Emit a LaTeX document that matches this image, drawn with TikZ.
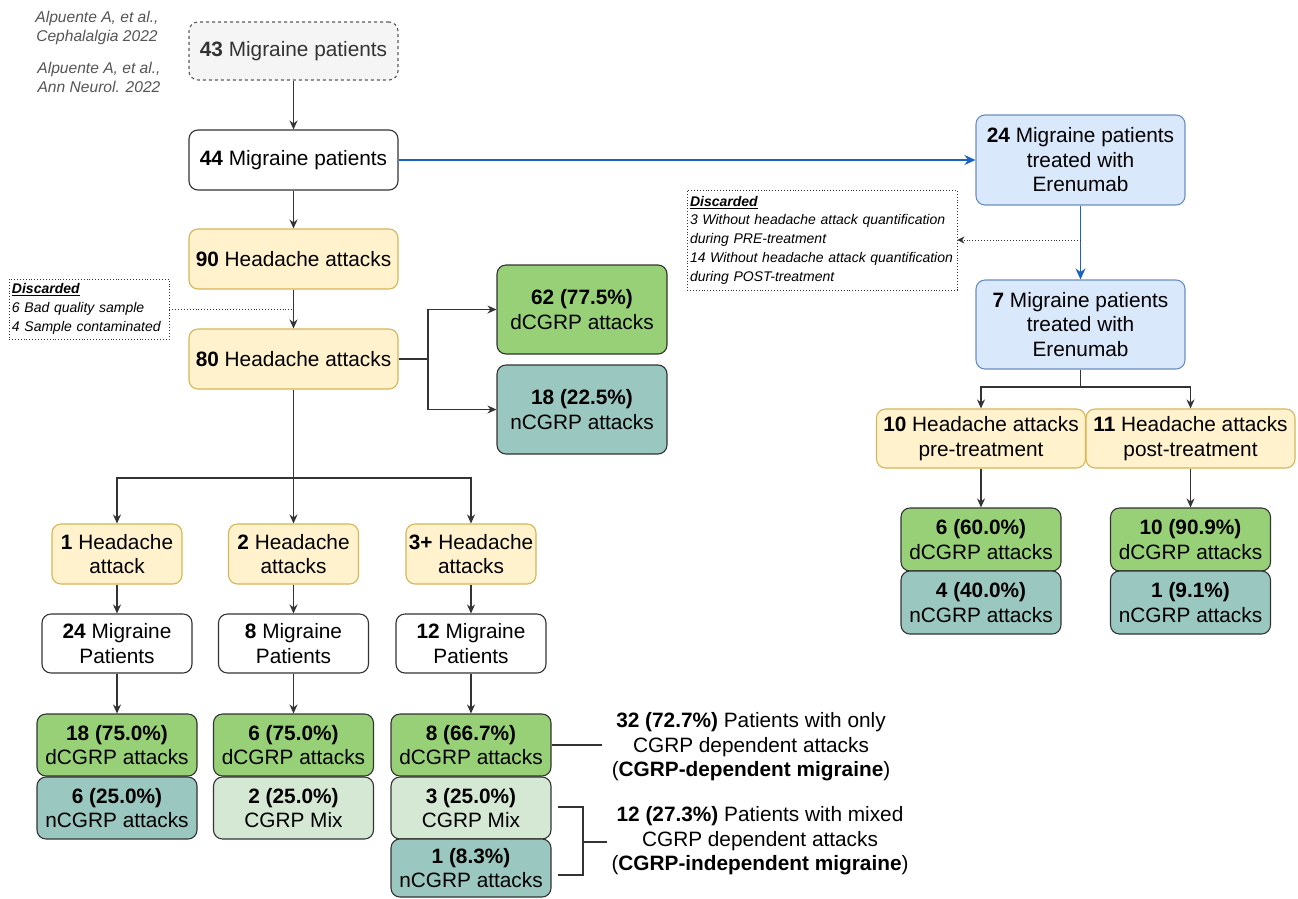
\documentclass[tikz,border=0pt]{standalone}
\usepackage{fontspec}
\setmainfont{Liberation Sans}
\usetikzlibrary{arrows.meta}
\definecolor{yelF}{HTML}{FFF2CC}
\definecolor{yelD}{HTML}{D6B656}
\definecolor{bluF}{HTML}{DAE8FC}
\definecolor{bluD}{HTML}{6C8EBF}
\definecolor{grnF}{HTML}{97D077}
\definecolor{tealF}{HTML}{9AC7BF}
\definecolor{mixF}{HTML}{D5E8D4}
\definecolor{lineB}{HTML}{1A64C0}
\definecolor{dk}{HTML}{333333}
\definecolor{grayF}{HTML}{F5F5F5}
\definecolor{citeC}{HTML}{555555}
\tikzset{
  sz/.style 2 args={minimum width=#1pt, minimum height=#2pt},
  basebox/.style={rounded corners=9pt, draw=dk, line width=1.1pt, align=center, inner sep=0pt,
     font=\fontsize{20.8}{24.5}\selectfont, text=black},
  whitebox/.style={basebox, fill=white},
  yelbox/.style={basebox, fill=yelF, draw=yelD},
  blubox/.style={basebox, fill=bluF, draw=bluD},
  grnbox/.style={basebox, fill=grnF},
  tealbox/.style={basebox, fill=tealF},
  mixbox/.style={basebox, fill=mixF},
  graybox/.style={basebox, fill=grayF, draw=dk!80, dashed, text=dk},
  discbox/.style={draw=dk, dotted, line width=0.9pt, align=left, inner sep=3pt,
     font=\fontsize{14}{18.7}\selectfont\itshape},
  plaintext/.style={align=center, inner sep=0pt, font=\fontsize{20.8}{24.5}\selectfont},
  citetext/.style={align=center, inner sep=0pt, text=citeC, font=\fontsize{15.6}{19}\selectfont\itshape},
  arr/.style={draw=dk, line width=1.1pt, -{Stealth[length=9pt,width=8pt]}},
  plainline/.style={draw=dk, line width=1.1pt},
  bluarr/.style={draw=lineB, line width=1.8pt, -{Stealth[length=11pt,width=10pt]}},
  dotarr/.style={draw=dk, dotted, line width=0.9pt, -{Stealth[length=7pt,width=7pt]}},
  dotline/.style={draw=dk, dotted, line width=0.9pt}
}
\begin{document}
\begin{tikzpicture}[x=1pt,y=-1pt]
\useasboundingbox[fill=white] (0,0) rectangle (1298,898);

% citations
\node[citetext] (c1) at (97,27.5) {Alpuente A, et al.,\\Cephalalgia 2022};
\node[citetext] (c2) at (99,77) {Alpuente A, et al.,\\Ann Neurol. 2022};

% left column top
\node[graybox, sz={209}{58}] (n43) at (293.5,51) {\textbf{43} Migraine patients};
\node[whitebox, sz={209}{60}] (n44) at (293.5,160) {\textbf{44} Migraine patients};
\node[yelbox, sz={209}{60}] (n90) at (293.5,259) {\textbf{90} Headache attacks};
\node[yelbox, sz={209}{60}] (n80) at (293.5,359) {\textbf{80} Headache attacks};
\node[discbox, sz={160}{60}, text width=154pt] (dl) at (89,309)
  {\underline{\textbf{Discarded}}\\6 Bad quality sample\\4 Sample contaminated};

\node[grnbox, sz={170}{89}] (d62) at (582,309.5) {\textbf{62 (77.5\%)}\\dCGRP attacks};
\node[tealbox, sz={170}{89}] (n18) at (582,409.5) {\textbf{18 (22.5\%)}\\nCGRP attacks};

% three columns
\node[yelbox, sz={130}{60}] (h1) at (117,554) {\textbf{1} Headache\\attack};
\node[yelbox, sz={130}{60}] (h2) at (293.5,554) {\textbf{2} Headache\\attacks};
\node[yelbox, sz={130}{60}] (h3) at (471,554) {\textbf{3+} Headache\\attacks};

\node[whitebox, sz={150}{59}] (p1) at (117,643.5) {\textbf{24} Migraine\\Patients};
\node[whitebox, sz={150}{59}] (p2) at (293.5,643.5) {\textbf{8} Migraine\\Patients};
\node[whitebox, sz={150}{59}] (p3) at (471,643.5) {\textbf{12} Migraine\\Patients};

\node[grnbox, sz={160}{62}] (g1) at (117,745) {\textbf{18 (75.0\%)}\\dCGRP attacks};
\node[tealbox, sz={160}{62}] (t1) at (117,808) {\textbf{6 (25.0\%)}\\nCGRP attacks};
\node[grnbox, sz={160}{62}] (g2) at (293.5,745) {\textbf{6 (75.0\%)}\\dCGRP attacks};
\node[mixbox, sz={160}{62}] (m2) at (293.5,808) {\textbf{2 (25.0\%)}\\CGRP Mix};
\node[grnbox, sz={160}{62}] (g3) at (471,745) {\textbf{8 (66.7\%)}\\dCGRP attacks};
\node[mixbox, sz={160}{62}] (m3) at (471,808) {\textbf{3 (25.0\%)}\\CGRP Mix};
\node[tealbox, sz={160}{58}] (t3) at (471,868) {\textbf{1 (8.3\%)}\\nCGRP attacks};

% right branch
\node[blubox, sz={209}{90}] (b24) at (1080.5,160) {\textbf{24} Migraine patients\\treated with\\Erenumab};
\node[blubox, sz={209}{89}] (b7) at (1080.5,324.5) {\textbf{7} Migraine patients\\treated with\\Erenumab};
\node[discbox, sz={270}{100}, text width=264pt] (dr) at (822,240)
  {\underline{\textbf{Discarded}}\\3 Without headache attack quantification\\during PRE-treatment\\14 Without headache attack quantification\\during POST-treatment};

\node[yelbox, sz={209}{59}] (h10) at (981,438.5) {\textbf{10} Headache attacks\\pre-treatment};
\node[yelbox, sz={209}{59}] (h11) at (1190.5,438.5) {\textbf{11} Headache attacks\\post-treatment};
\node[grnbox, sz={160}{63}] (g6) at (981,539.5) {\textbf{6 (60.0\%)}\\dCGRP attacks};
\node[tealbox, sz={160}{63}] (t4) at (981,602.5) {\textbf{4 (40.0\%)}\\nCGRP attacks};
\node[grnbox, sz={160}{63}] (g10) at (1190.5,539.5) {\textbf{10 (90.9\%)}\\dCGRP attacks};
\node[tealbox, sz={160}{63}] (t9) at (1190.5,602.5) {\textbf{1 (9.1\%)}\\nCGRP attacks};

% summary texts
\node[plaintext] (s32) at (751,747) {\textbf{32 (72.7\%)} Patients with only\\CGRP dependent attacks\\(\textbf{CGRP-dependent migraine})};
\node[plaintext] (s12) at (760,841) {\textbf{12 (27.3\%)} Patients with mixed\\CGRP dependent attacks\\(\textbf{CGRP-independent migraine})};

% coordinates
\coordinate (j80) at (428,359);
\coordinate (jb) at (293.5,478);
\coordinate (jr) at (1080.5,387);
\coordinate (jd) at (1080.5,240);
\coordinate (e32) at (602,745);
\coordinate (bt) at (558,807);
\coordinate (bb) at (558,875);
\coordinate (btc) at (583,807);
\coordinate (bbc) at (583,875);
\coordinate (bm) at (583,842);
\coordinate (bme) at (607,842);

% connectors
\draw[arr] (n43.south) -- (n44.north);
\draw[arr] (n44.south) -- (n90.north);
\draw[arr] (n90.south) -- (n80.north);
\draw[dotline] (dl.east) -- (dl.east -| n80.north);
\draw[plainline] (n80.east) -- (j80);
\draw[arr] (j80) |- (d62.west);
\draw[arr] (j80) |- (n18.west);
\draw[plainline] (n80.south) -- (jb);
\draw[arr] (jb) -| (h1.north);
\draw[arr] (jb) -- (h2.north);
\draw[arr] (jb) -| (h3.north);
\draw[arr] (h1.south) -- (p1.north);
\draw[arr] (h2.south) -- (p2.north);
\draw[arr] (h3.south) -- (p3.north);
\draw[arr] (p1.south) -- (g1.north);
\draw[arr] (p2.south) -- (g2.north);
\draw[arr] (p3.south) -- (g3.north);
\draw[plainline] (g3.east |- e32) -- (e32);
\draw[plainline] (bt) -- (btc) -- (bbc) -- (bb);
\draw[plainline] (bm) -- (bme);

\draw[bluarr] (n44.east) -- (b24.west);
\draw[bluarr] (b24.south) -- (b7.north);
\draw[dotarr] (jd) -- (dr.east);
\draw[plainline] (b7.south) -- (jr);
\draw[arr] (jr) -| (h10.north);
\draw[arr] (jr) -| (h11.north);
\draw[arr] (h10.south) -- (g6.north);
\draw[arr] (h11.south) -- (g10.north);
\end{tikzpicture}
\end{document}
